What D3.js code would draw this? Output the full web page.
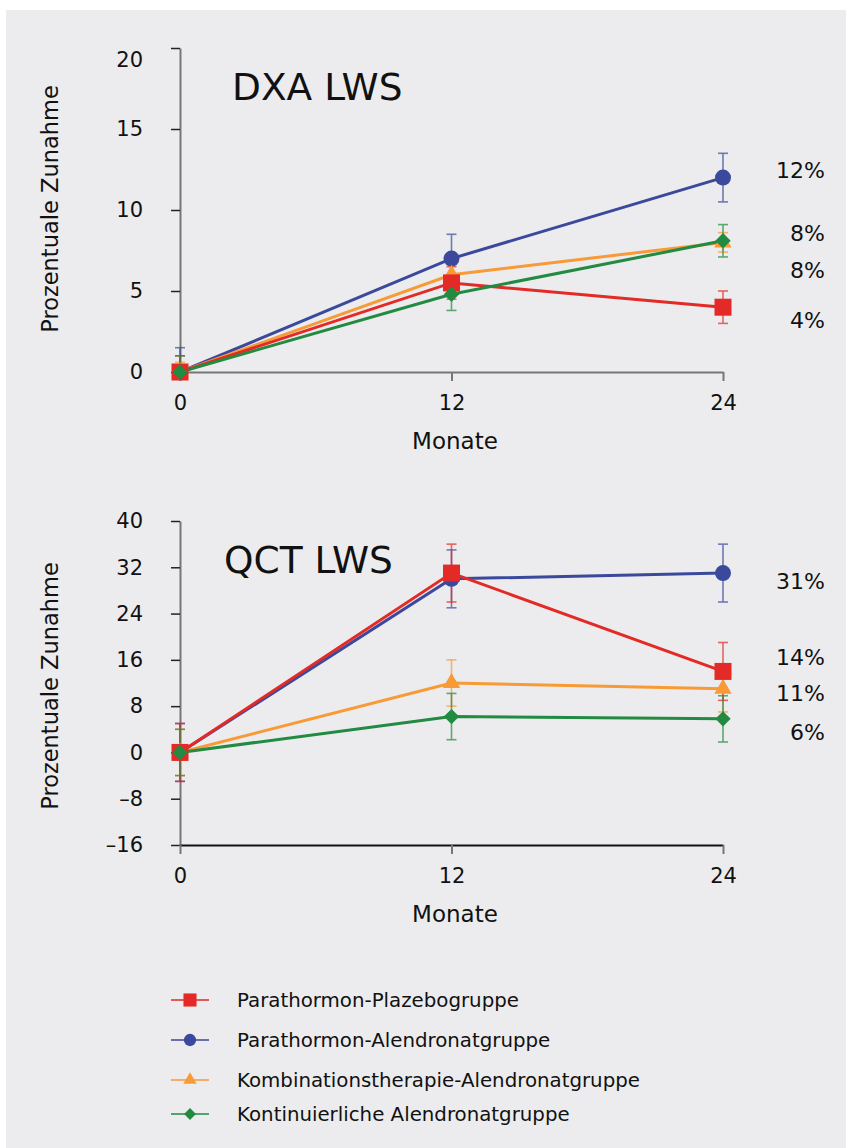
<!DOCTYPE html>
<html>
<head>
<meta charset="utf-8">
<script src="https://cdn.jsdelivr.net/npm/d3@7"></script>
<style>
  body { margin: 0; background: #fff; }
  svg text { font-family: "DejaVu Sans", sans-serif; fill: #111; }
</style>
</head>
<body>
<div id="vis"></div>
<script>
// months on the x axis
var months = [0, 12, 24];
var seriesNames = ["Parathormon-Plazebogruppe", "Parathormon-Alendronatgruppe",
                   "Kombinationstherapie-Alendronatgruppe", "Kontinuierliche Alendronatgruppe"];

// DXA LWS values (percent increase) and error bars
var dxaPlazebo = [0, 5.5, 4];
var dxaAlendronat = [0, 7, 12];
var dxaKombination = [0, 6, 8];
var dxaKontinuierlich = [0, 4.8, 8.1];
var dxaPlazeboErr = [1, 1, 1];
var dxaAlendronatErr = [1.5, 1.5, 1.5];
var dxaKombinationErr = [0.6, 0.6, 0.6];
var dxaKontinuierlichErr = [1, 1, 1];
var dxaTicks = [0, 5, 10, 15, 20];
var dxaLabels = ["12%", "8%", "8%", "4%"];

// QCT LWS values and error bars
var qctPlazebo = [0, 31, 14];
var qctAlendronat = [0, 30, 31];
var qctKombination = [0, 12, 11];
var qctKontinuierlich = [0, 6.2, 5.8];
var qctPlazeboErr = [5, 5, 5];
var qctAlendronatErr = [5, 5, 5];
var qctKombinationErr = [4, 4, 4];
var qctKontinuierlichErr = [4, 4, 4];
var qctTicks = [-16, -8, 0, 8, 16, 24, 32, 40];
var qctLabels = ["31%", "14%", "11%", "6%"];

var colors = ["#e32a26", "#3b499c", "#f89a35", "#238a42"];

// marker shapes for each series, big for the plot and small for the legend
function marker(i, big) {
  var s = big ? 1 : 0.77;
  if (i == 0) return { type: d3.symbolSquare, size: 289 * s * s, rot: 0 };
  if (i == 1) return { type: d3.symbolCircle, size: 201 * s * s, rot: 0 };
  if (i == 2) return { type: d3.symbolTriangle, size: 130 * s * s, rot: 0 };
  return { type: d3.symbolSquare, size: 118 * s * s, rot: 45 };
}

var width = 852, height = 1148;
var svg = d3.select("#vis").append("svg")
  .attr("width", width).attr("height", height);

svg.append("rect")
  .attr("x", 6).attr("y", 10)
  .attr("width", 840).attr("height", height - 10)
  .attr("fill", "#ececee");

function drawChart(cfg) {
  var x = d3.scaleLinear().domain([0, 24]).range([180, 723]);
  var y = d3.scaleLinear().domain(cfg.domain).range(cfg.yRange);

  var g = svg.append("g");

  // y axis
  var yAxis = g.append("g")
    .attr("transform", "translate(180,0)")
    .call(d3.axisLeft(y).tickValues(cfg.ticks).tickSize(9).tickSizeOuter(0).tickPadding(28)
      .tickFormat(function(d) { return d < 0 ? "\u2013" + (-d) : d; }));
  yAxis.select(".domain").attr("stroke", "#767676").attr("stroke-width", 2);
  yAxis.selectAll(".tick line").attr("stroke", "#222").attr("stroke-width", 1.5);
  yAxis.selectAll("text").attr("font-size", 21).attr("font-family", null).attr("fill", "#111");
  if (cfg.topLabelShift) {
    yAxis.selectAll(".tick text").filter(function(d) { return d == cfg.domain[1]; })
      .attr("dy", "0.9em");
  }

  // x axis
  var xAxis = g.append("g")
    .attr("transform", "translate(0," + y(cfg.domain[0]) + ")")
    .call(d3.axisBottom(x).tickValues(months).tickSize(9).tickSizeOuter(0).tickPadding(14));
  xAxis.select(".domain").attr("stroke", cfg.xAxisColor).attr("stroke-width", 2);
  xAxis.selectAll(".tick line").attr("stroke", "#767676").attr("stroke-width", 2);
  xAxis.selectAll("text").attr("font-size", 21).attr("font-family", null).attr("fill", "#111");

  // axis titles
  g.append("text")
    .attr("transform", "translate(50," + cfg.yLabelCenter + ") rotate(-90)")
    .attr("text-anchor", "middle").attr("dominant-baseline", "central")
    .attr("font-size", 22.5)
    .text("Prozentuale Zunahme");
  g.append("text")
    .attr("x", 455).attr("y", y(cfg.domain[0]) + 77)
    .attr("text-anchor", "middle")
    .attr("font-size", 23)
    .text("Monate");

  // chart title
  g.append("text")
    .attr("x", cfg.titleX).attr("y", cfg.titleY)
    .attr("font-size", 37.5)
    .text(cfg.title);

  var line = d3.line()
    .x(function(d, i) { return x(months[i]); })
    .y(function(d) { return y(d); });

  // clip so error bars stay inside the plot
  var clipId = "clip" + cfg.title.replace(/\s/g, "");
  svg.append("clipPath").attr("id", clipId)
    .append("rect")
    .attr("x", 160).attr("y", cfg.yRange[1] - 20)
    .attr("width", 600).attr("height", y(cfg.domain[0]) - cfg.yRange[1] + 20);

  var order = [1, 2, 0, 3];
  order.forEach(function(i) {
    var vals = cfg.values[i], errs = cfg.errors[i];
    var eb = g.append("g").attr("clip-path", "url(#" + clipId + ")")
      .attr("stroke", colors[i]).attr("stroke-width", 1.6).attr("opacity", 0.7);
    vals.forEach(function(v, j) {
      var cx = x(months[j]);
      eb.append("line").attr("x1", cx).attr("x2", cx)
        .attr("y1", y(v - errs[j])).attr("y2", y(v + errs[j]));
      [v - errs[j], v + errs[j]].forEach(function(e) {
        eb.append("line").attr("x1", cx - 5).attr("x2", cx + 5)
          .attr("y1", y(e)).attr("y2", y(e));
      });
    });
  });

  order.forEach(function(i) {
    g.append("path")
      .datum(cfg.values[i])
      .attr("d", line)
      .attr("fill", "none")
      .attr("stroke", colors[i])
      .attr("stroke-width", 3);
  });

  order.forEach(function(i) {
    var m = marker(i, true);
    g.selectAll(null)
      .data(cfg.values[i])
      .enter().append("path")
      .attr("d", d3.symbol().type(m.type).size(m.size))
      .attr("transform", function(d, j) {
        return "translate(" + x(months[j]) + "," + y(d) + ") rotate(" + m.rot + ")";
      })
      .attr("fill", colors[i]);
  });

  // percent labels at the right
  g.selectAll(null)
    .data(cfg.labels)
    .enter().append("text")
    .attr("x", 825)
    .attr("y", function(d, k) { return cfg.labelY[k]; })
    .attr("text-anchor", "end").attr("dominant-baseline", "central")
    .attr("font-size", 22)
    .text(function(d) { return d; });
}

drawChart({
  title: "DXA LWS", titleX: 232, titleY: 100,
  domain: [0, 20], yRange: [372, 48], ticks: dxaTicks, topLabelShift: true,
  xAxisColor: "#767676", yLabelCenter: 209,
  values: [dxaPlazebo, dxaAlendronat, dxaKombination, dxaKontinuierlich],
  errors: [dxaPlazeboErr, dxaAlendronatErr, dxaKombinationErr, dxaKontinuierlichErr],
  labels: dxaLabels, labelY: [170, 233, 270, 320]
});

drawChart({
  title: "QCT LWS", titleX: 224, titleY: 573,
  domain: [-16, 40], yRange: [845, 521], ticks: qctTicks, topLabelShift: false,
  xAxisColor: "#111", yLabelCenter: 686,
  values: [qctPlazebo, qctAlendronat, qctKombination, qctKontinuierlich],
  errors: [qctPlazeboErr, qctAlendronatErr, qctKombinationErr, qctKontinuierlichErr],
  labels: qctLabels, labelY: [581, 657, 693, 732]
});

// legend
var legendY = [1000, 1040, 1080, 1114];
var legend = svg.append("g");
seriesNames.forEach(function(name, i) {
  var row = legend.append("g").attr("transform", "translate(0," + legendY[i] + ")");
  row.append("line").attr("x1", 171).attr("x2", 209)
    .attr("stroke", colors[i]).attr("stroke-width", 1.6);
  var m = marker(i, false);
  row.append("path")
    .attr("d", d3.symbol().type(m.type).size(m.size))
    .attr("transform", "translate(190,0) rotate(" + m.rot + ")")
    .attr("fill", colors[i]);
  row.append("text")
    .attr("x", 237).attr("dominant-baseline", "central")
    .attr("font-size", 19.8)
    .text(name);
});
</script>
</body>
</html>
